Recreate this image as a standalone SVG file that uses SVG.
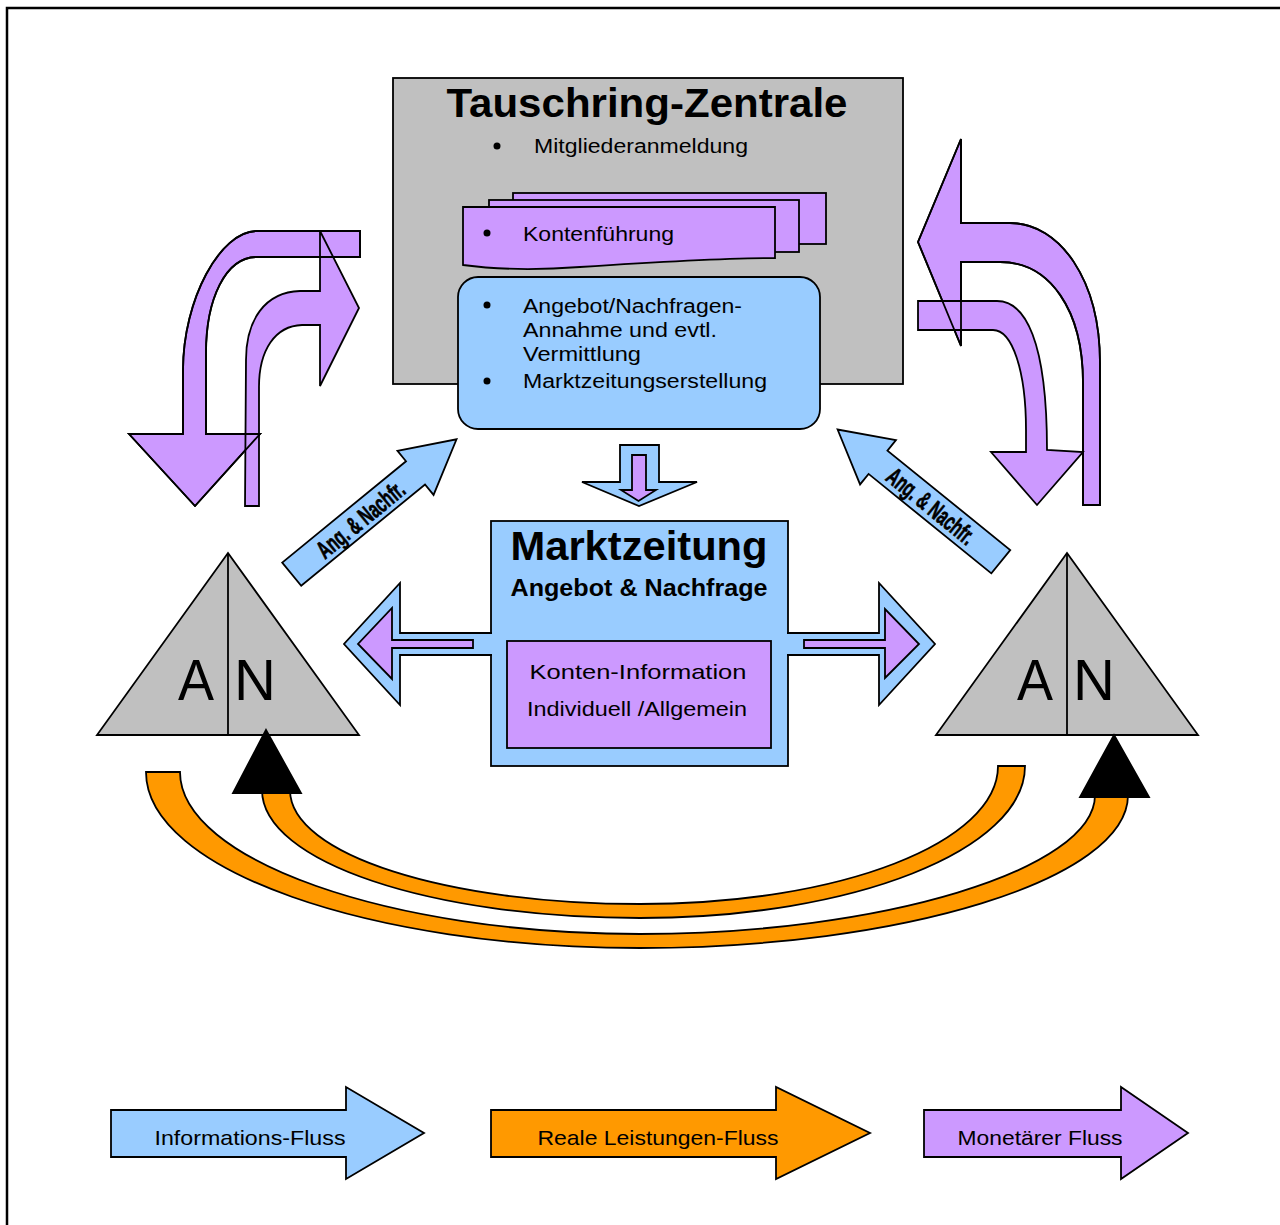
<svg xmlns="http://www.w3.org/2000/svg" width="1280" height="1225" viewBox="0 0 1280 1225">
<style>
.s{stroke:#000;stroke-width:1.8;stroke-linejoin:miter}
.n{fill:none;stroke:#000;stroke-width:1.8}
.gray{fill:#C0C0C0}
.blue{fill:#99CCFF}
.purple{fill:#CC99FF}
.orange{fill:#FF9900}
.t{font-family:"Liberation Sans",Arial,sans-serif;fill:#000}
.b{font-weight:bold}
.lbl{font-family:"Liberation Sans",Arial,sans-serif;font-weight:bold;fill:#000;stroke:#000;stroke-width:0.7}
</style>
<rect width="1280" height="1225" fill="#fff"/>
<path d="M7,1225 V8 H1280" fill="none" stroke="#000" stroke-width="2.5"/>

<g id="tauschring-zentrale">
  <rect class="s gray" x="393" y="78" width="510" height="306"/>
  <text class="t b" x="647" y="117" font-size="40" text-anchor="middle" textLength="401" lengthAdjust="spacingAndGlyphs">Tauschring-Zentrale</text>
  <circle cx="497" cy="146" r="3.5"/>
  <text class="t" x="534" y="153" font-size="20" textLength="214" lengthAdjust="spacingAndGlyphs">Mitgliederanmeldung</text>
  <g id="kontenfuehrung">
    <rect class="s purple" x="513" y="193" width="313" height="51"/>
    <rect class="s purple" x="489" y="200" width="310" height="52"/>
    <path class="s purple" d="M463,207 H775 V258 C720,258 640,263 580,267 C540,270 500,270 463,265 Z"/>
    <circle cx="487" cy="233" r="3.5"/>
    <text class="t" x="523" y="241" font-size="20" textLength="151" lengthAdjust="spacingAndGlyphs">Kontenführung</text>
  </g>
  <g id="vermittlung">
    <rect class="s blue" x="458" y="277" width="362" height="152" rx="20"/>
    <circle cx="487" cy="305" r="3.5"/>
    <text class="t" x="523" y="313" font-size="20" textLength="219" lengthAdjust="spacingAndGlyphs">Angebot/Nachfragen-</text>
    <text class="t" x="523" y="337" font-size="20" textLength="194" lengthAdjust="spacingAndGlyphs">Annahme und evtl.</text>
    <text class="t" x="523" y="361" font-size="20" textLength="118" lengthAdjust="spacingAndGlyphs">Vermittlung</text>
    <circle cx="487" cy="381" r="3.5"/>
    <text class="t" x="523" y="388" font-size="20" textLength="244" lengthAdjust="spacingAndGlyphs">Marktzeitungserstellung</text>
  </g>
</g>

<g id="marktzeitung">
  <rect class="s blue" x="491" y="521" width="297" height="245"/>
  <text class="t b" x="639" y="560" font-size="40" text-anchor="middle" textLength="257" lengthAdjust="spacingAndGlyphs">Marktzeitung</text>
  <text class="t b" x="639" y="596" font-size="23" text-anchor="middle" textLength="257" lengthAdjust="spacingAndGlyphs">Angebot &amp; Nachfrage</text>
  <rect class="s purple" x="507" y="641" width="264" height="107"/>
  <text class="t" x="638" y="679" font-size="21" text-anchor="middle" textLength="217" lengthAdjust="spacingAndGlyphs">Konten-Information</text>
  <text class="t" x="637" y="716" font-size="21" text-anchor="middle" textLength="220" lengthAdjust="spacingAndGlyphs">Individuell /Allgemein</text>
</g>

<g id="anbieter-nachfrager-links">
  <path class="s gray" d="M228,553 L359,735 L97,735 Z"/>
  <line class="n" x1="228" y1="553" x2="228" y2="735"/>
  <text class="t" x="196" y="700" font-size="58" text-anchor="middle" textLength="36" lengthAdjust="spacingAndGlyphs">A</text>
  <text class="t" x="255" y="700" font-size="58" text-anchor="middle">N</text>
</g>
<g id="anbieter-nachfrager-rechts">
  <path class="s gray" d="M1067,553 L1198,735 L936,735 Z"/>
  <line class="n" x1="1067" y1="553" x2="1067" y2="735"/>
  <text class="t" x="1035" y="700" font-size="58" text-anchor="middle" textLength="36" lengthAdjust="spacingAndGlyphs">A</text>
  <text class="t" x="1094" y="700" font-size="58" text-anchor="middle">N</text>
</g>

<g id="connectors">
  <!-- left monetary arrows -->
  <path class="s purple" d="M360,231 L257,231 C220,231 183,300 183,370 L183,434 L129,434 L195,506 L260,434 L206,434 L206,353 C206,300 225,257 257,257 L360,257 Z"/>
  <path class="s purple" d="M245,506 L246,360 C246,320 265,292 300,291 L320,291 L320,231 L359,308 L320,386 L320,325 L302,325 C275,326 259,350 259,387 L259,506 Z"/>
  <path class="n" d="M360,231 L257,231 C220,231 183,300 183,370 L183,434 L129,434 L195,506 L260,434 L206,434 L206,353 C206,300 225,257 257,257 L360,257 Z"/>
  <!-- right monetary arrows -->
  <path class="s purple" d="M1100,505 L1100,363 C1100,280 1060,223 1010,223 L961,223 L961,139 L918,242 L961,346 L961,262 L1000,262 C1050,262 1083,310 1083,383 L1083,505 Z"/>
  <path class="s purple" d="M918,301 L997,301 C1025,301 1047,340 1047,450 L1083,452 L1037,505 L991,452 L1026,452 L1026,430 C1026,370 1012,330 993,330 L918,330 Z"/>
  <path class="n" d="M1100,505 L1100,363 C1100,280 1060,223 1010,223 L961,223 L961,139 L918,242 L961,346 L961,262 L1000,262 C1050,262 1083,310 1083,383 L1083,505 Z"/>

  <!-- info arrows Ang. & Nachfr. -->
  <g transform="translate(291.7,574.2) rotate(-39.3)">
    <path class="s blue" d="M0,-15 L160,-15 L160,-28.5 L213,0 L160,28.5 L160,15 L0,15 Z"/>
    <text class="lbl" x="88" y="1" font-size="25" text-anchor="middle" dominant-baseline="central" textLength="106" lengthAdjust="spacingAndGlyphs">Ang. &amp; Nachfr.</text>
  </g>
  <g transform="translate(1000.8,561.7) rotate(-141)">
    <path class="s blue" d="M0,-15 L158,-15 L158,-28.5 L210,0 L158,28.5 L158,15 L0,15 Z"/>
  </g>
  <g transform="translate(932,505) rotate(39)">
    <text class="lbl" x="0" y="1" font-size="25" text-anchor="middle" dominant-baseline="central" textLength="106" lengthAdjust="spacingAndGlyphs">Ang. &amp; Nachfr.</text>
  </g>

  <!-- down arrow Zentrale -> Marktzeitung -->
  <path class="s blue" d="M620,445 L659,445 L659,482 L697,482 L639,506 L582,482 L620,482 Z"/>
  <path class="s purple" d="M632,455 L646,455 L646,490 L656,490 L638.5,501 L621,490 L632,490 Z"/>

  <!-- left double arrow -->
  <path class="blue" d="M494,633 L400,633 L400,583 L344,644 L400,705 L400,655 L494,655 Z"/>
  <path class="n" d="M492,633 L400,633 L400,583 L344,644 L400,705 L400,655 L492,655"/>
  <path class="s purple" d="M473,640 L392,640 L392,608 L358,644 L392,679 L392,648 L473,648 Z"/>
  <!-- right double arrow -->
  <path class="blue" d="M785,633 L879,633 L879,583 L935,644 L879,705 L879,655 L785,655 Z"/>
  <path class="n" d="M787,633 L879,633 L879,583 L935,644 L879,705 L879,655 L787,655"/>
  <path class="s purple" d="M804,640 L885,640 L885,609 L919,644 L885,678 L885,648 L804,648 Z"/>

  <!-- real flow arcs -->
  <path class="s orange" d="M262,790 C262,862 431,918 640,918 C853,918 1025,850 1025,766 L998,766 C998,842 842,904 640,904 C448,904 290,855 290,790 Z"/>
  <path class="s orange" d="M146,772 C146,870 370,948 640,948 C900,948 1128,880 1128,795 L1095,795 C1095,870 880,934 640,934 C390,934 180,860 180,772 Z"/>
  <path class="s" fill="#000" d="M266,730 L301,793 L233,793 Z"/>
  <path class="s" fill="#000" d="M1114,735 L1149,797 L1080,797 Z"/>
</g>

<g id="legende">
  <g id="legende-info">
    <path class="s blue" d="M111,1110 L346,1110 L346,1087 L424,1133 L346,1179 L346,1157 L111,1157 Z"/>
    <text class="t" x="250" y="1145" font-size="21" text-anchor="middle" textLength="191" lengthAdjust="spacingAndGlyphs">Informations-Fluss</text>
  </g>
  <g id="legende-real">
    <path class="s orange" d="M491,1110 L776,1110 L776,1087 L870,1133 L776,1179 L776,1157 L491,1157 Z"/>
    <text class="t" x="658" y="1145" font-size="21" text-anchor="middle" textLength="241" lengthAdjust="spacingAndGlyphs">Reale Leistungen-Fluss</text>
  </g>
  <g id="legende-monetaer">
    <path class="s purple" d="M924,1110 L1121,1110 L1121,1087 L1188,1133 L1121,1179 L1121,1157 L924,1157 Z"/>
    <text class="t" x="1040" y="1145" font-size="21" text-anchor="middle" textLength="165" lengthAdjust="spacingAndGlyphs">Monetärer Fluss</text>
  </g>
</g>
</svg>
